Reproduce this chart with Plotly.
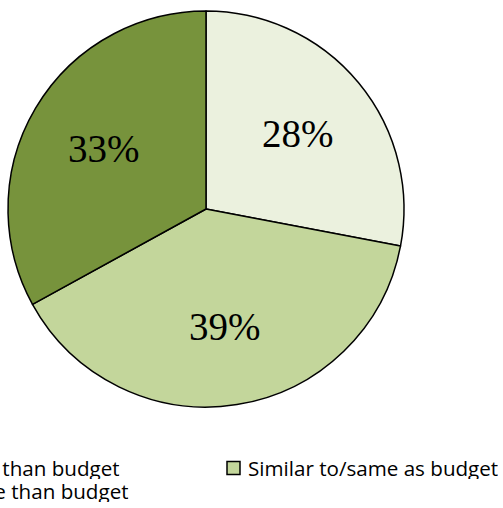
import math
import plotly.graph_objects as go

categories = ["Less than budget", "Similar to/same as budget", "More than budget"]
values = [28, 39, 33]
colors = ["#EBF1DE", "#C3D69B", "#77933C"]

W, H = 503, 508
# pie geometry (pixels)
cx, cy, R = 206, 209, 198
LABEL_FRAC = 0.6

fig = go.Figure()
fig.add_trace(go.Pie(
    labels=categories,
    values=values,
    sort=False,
    direction="clockwise",
    rotation=0,
    marker=dict(colors=colors, line=dict(color="#000000", width=1.5)),
    textinfo="none",
    showlegend=False,
    hoverinfo="label+percent",
    domain=dict(x=[(cx - R) / W, (cx + R) / W], y=[(H - cy - R) / H, (H - cy + R) / H]),
))

# slice labels placed at the mid-angle of each slice
total = sum(values)
acc = 0
for v in values:
    mid = (acc + v / 2) / total * 2 * math.pi
    acc += v
    px = cx + LABEL_FRAC * R * math.sin(mid)
    py = cy - LABEL_FRAC * R * math.cos(mid)
    fig.add_annotation(xref="paper", yref="paper", x=px / W, y=(H - py) / H,
                       text=f"{round(v / total * 100)}%", showarrow=False,
                       xanchor="center", yanchor="middle",
                       font=dict(family="Liberation Serif", size=39, color="#000000"))

# legend (clipped at the left edge as in the original)
leg_font = dict(family="Open Sans", size=20.6, color="#000000")
col_text_x = [-46, 247]
row_y = [468, 491]
for i, (name, col) in enumerate(zip(categories, colors)):
    c, r = i % 2, i // 2
    tx = col_text_x[c]
    yc = row_y[r]
    fig.add_shape(type="rect", xref="paper", yref="paper",
                  x0=(tx - 20) / W, x1=(tx - 7) / W,
                  y0=(H - yc - 6.5) / H, y1=(H - yc + 6.5) / H,
                  fillcolor=col, line=dict(color="#000000", width=1.5))
    fig.add_annotation(xref="paper", yref="paper", x=tx / W, y=(H - yc) / H,
                       text=name, showarrow=False, xanchor="left", yanchor="middle",
                       xshift=-1, height=22, font=leg_font)

fig.update_layout(
    width=W, height=H,
    margin=dict(l=0, r=0, t=0, b=0),
    paper_bgcolor="#FFFFFF",
    plot_bgcolor="#FFFFFF",
)
fig.write_html("out.html", config={"displayModeBar": False},
               post_script="document.body.style.margin='0px';")
